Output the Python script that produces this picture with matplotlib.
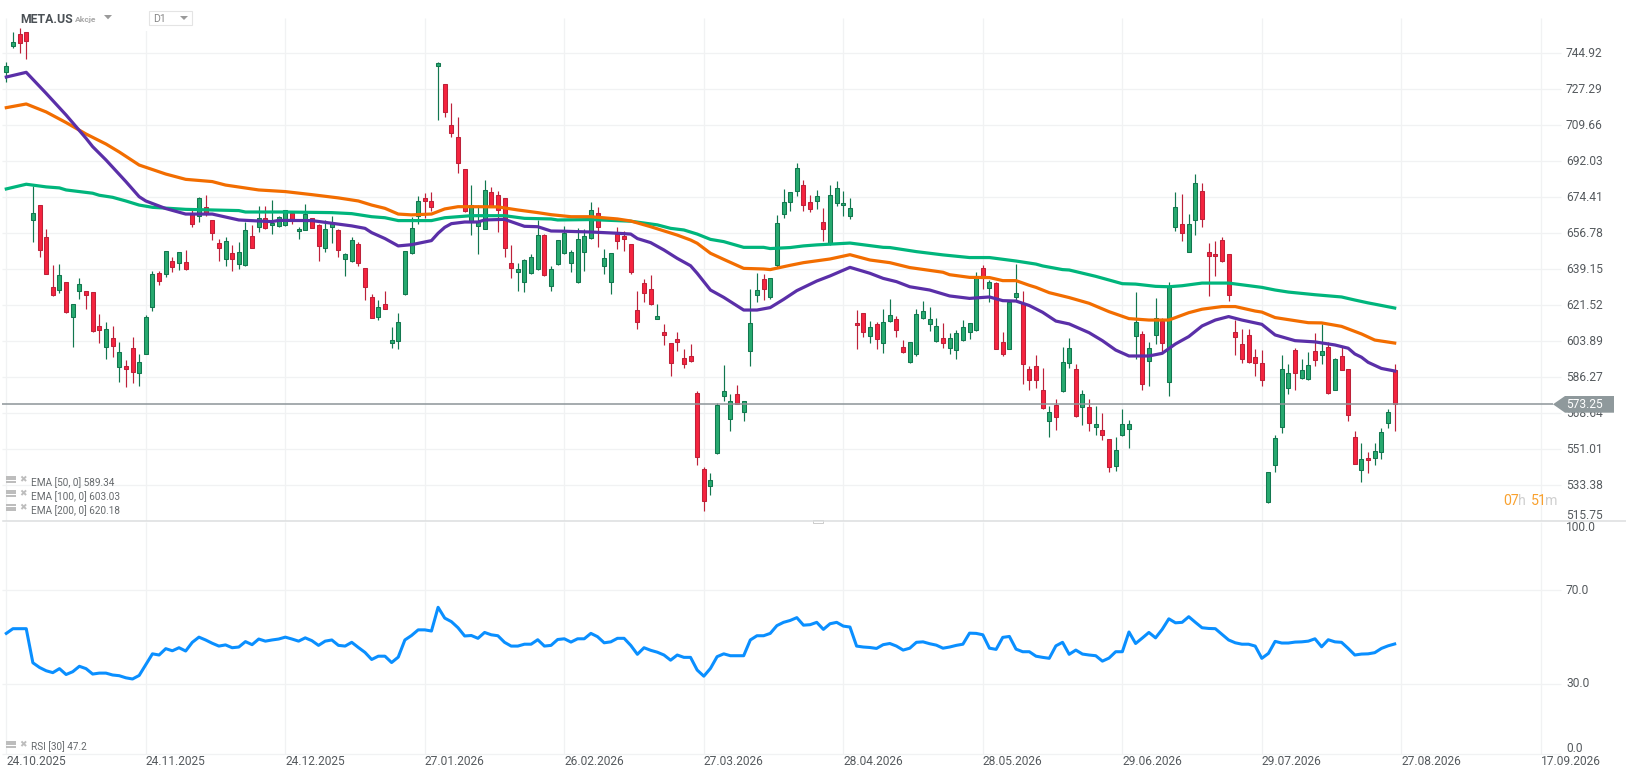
import numpy as np
import matplotlib
matplotlib.use("Agg")
import matplotlib.pyplot as plt
from matplotlib.patches import Polygon, Rectangle

plt.rcParams['font.family'] = ['Roboto', 'DejaVu Sans']

# ---------- data ----------
direction = ("GGRRGRRRGR" "GGRRRGRGRR" "GGGRGRGRRG" "RRRGRGGRGR" "GGGRGGRRGG"
             "RGGRRRGRGG" "GGGRRGRRRR" "GGGRRRRGGG" "GRGGGGGGGR" "GGRRRRRRGR"
             "RRRRRRGGGG" "RGGGRGGGGG" "RRGRGGGGRR" "GRGGRRGGGG" "GRGGGGGRGR"
             "RGGRRRRGRG" "GRGRGRRGGG" "GRGGRGGRGG" "RRRRRRRRRR" "GGGGRGGRGR"
             "GRRRGRGGGR")
highs = [740.7,755.2,757.1,755.2,679.9,670.5,658.9,641.3,641.8,632.8,
 622.0,634.9,628.4,627.9,617.3,613.4,611.4,603.4,594.8,606.0,
 597.5,616.8,638.3,638.3,648.0,645.2,647.5,648.4,669.0,674.4,
 675.4,663.5,654.0,655.0,650.9,652.4,662.2,660.9,670.2,670.2,
 672.9,665.3,668.0,667.9,659.7,671.1,664.3,661.3,663.3,665.3,
 658.7,647.0,655.0,652.5,639.6,627.1,624.1,628.5,610.9,617.8,
 648.0,664.9,675.0,676.4,677.0,740.5,729.7,720.6,713.6,688.1,
 680.4,670.5,682.9,679.5,677.5,673.9,651.1,642.1,644.0,646.5,
 663.3,656.3,640.8,653.4,660.4,648.6,659.4,658.9,672.1,669.7,
 648.9,647.3,659.9,657.8,651.4,628.4,634.4,636.4,622.2,612.2,
 602.9,608.5,600.1,602.6,579.4,542.5,539.4,573.5,592.3,578.1,
 582.5,574.5,629.5,637.3,636.9,634.9,665.7,678.3,676.8,691.2,
 682.9,675.5,677.8,669.0,680.3,682.2,677.5,673.9,619.2,617.6,
 613.8,613.2,619.7,624.6,616.1,604.5,603.4,619.7,623.5,620.5,
 615.3,612.9,608.0,609.4,614.2,612.7,637.8,641.3,633.9,633.1,
 608.4,623.5,641.7,628.5,591.8,597.2,590.8,572.2,575.6,601.1,
 605.5,592.8,580.1,575.6,572.2,568.8,556.1,557.0,570.6,565.2,
 628.0,608.8,603.6,625.1,615.1,632.9,677.0,676.0,666.2,685.8,
 681.4,652.0,653.0,655.0,646.5,614.3,609.9,609.9,600.0,599.5,
 539.7,557.9,597.2,592.6,600.5,595.1,598.7,608.0,612.2,603.4,
 595.6,600.9,590.2,560.0,554.1,549.6,554.1,561.3,570.6,592.8]
lows = [731.0,747.7,745.2,742.3,652.7,645.4,636.7,626.3,627.4,617.9,
 601.3,624.5,619.6,608.3,603.3,595.4,596.4,584.2,581.7,583.3,
 582.2,597.5,618.9,631.5,635.6,638.0,638.7,638.8,660.0,662.5,
 665.3,653.5,643.4,640.9,638.5,639.1,640.9,649.4,657.6,659.1,
 656.6,659.7,660.5,661.5,654.0,658.2,659.5,643.4,647.8,652.2,
 645.4,636.0,642.9,640.9,624.1,615.2,614.4,619.9,600.6,600.1,
 626.6,646.8,661.5,664.4,667.7,712.3,713.9,704.1,686.5,667.4,
 656.0,646.8,659.1,669.5,657.6,645.4,634.9,628.5,628.1,637.0,
 639.0,636.0,628.7,641.4,646.8,637.8,632.6,638.5,654.2,650.3,
 637.0,627.2,649.1,648.3,637.0,610.1,623.3,621.7,615.0,602.3,
 587.1,599.3,591.0,593.9,543.3,520.8,528.6,548.9,574.8,560.0,
 573.0,565.0,592.0,623.1,624.1,624.6,640.0,664.3,667.9,675.2,
 667.9,667.4,668.8,653.2,651.1,670.3,665.3,663.9,600.1,606.2,
 603.2,600.1,598.3,613.5,606.2,598.3,593.4,596.9,615.0,609.1,
 603.7,600.8,597.9,595.4,604.1,605.2,609.1,629.5,623.1,600.0,
 596.9,600.0,624.1,583.1,580.1,581.2,570.9,557.2,560.5,579.2,
 590.8,567.0,563.1,560.2,558.0,555.7,540.1,540.6,557.7,551.8,
 595.2,580.1,582.0,602.7,598.0,577.1,657.9,653.0,647.5,656.1,
 659.9,626.1,635.9,642.9,623.8,597.4,593.4,593.1,586.9,582.2,
 524.9,540.1,559.2,578.3,580.1,585.6,585.1,592.0,592.9,578.3,
 579.9,589.7,565.0,543.7,535.0,539.6,543.5,546.4,561.6,560.1]
body_top = [738.7,750.3,754.2,755.2,666.6,670.5,654.8,630.3,636.2,632.8,
 622.0,631.8,628.4,627.9,611.3,609.8,605.4,598.5,591.6,600.5,
 593.6,615.7,636.7,637.2,648.0,643.1,647.5,642.6,666.1,673.9,
 669.5,663.3,651.9,652.9,647.0,647.5,658.2,655.3,664.1,664.1,
 661.7,664.6,668.0,666.6,658.7,666.2,664.1,660.7,658.7,661.7,
 658.2,646.5,653.4,651.4,639.6,625.4,620.5,622.0,604.4,613.2,
 648.0,659.2,672.4,673.9,672.4,740.0,729.7,709.7,703.8,688.1,
 670.5,662.3,677.8,676.9,675.4,673.9,642.1,639.1,643.5,645.0,
 655.8,655.8,639.1,653.4,656.8,647.5,653.8,655.3,668.0,666.6,
 644.5,647.0,656.3,655.3,651.4,619.1,632.3,629.4,616.1,608.3,
 602.9,604.9,595.6,596.5,578.4,541.3,536.2,572.7,579.4,574.5,
 577.9,574.5,612.7,628.9,634.2,634.7,661.7,672.0,676.8,688.6,
 680.3,672.0,674.9,662.1,675.4,678.8,671.5,669.0,612.7,617.6,
 610.7,612.2,613.2,616.6,614.6,601.0,603.4,617.1,618.6,614.6,
 611.2,605.4,605.4,607.8,610.7,612.7,634.7,639.6,632.8,632.3,
 603.4,623.0,627.4,622.5,590.2,591.6,579.9,569.1,572.7,593.6,
 600.5,590.2,577.9,571.6,563.2,560.3,555.9,550.5,563.2,563.2,
 613.2,607.3,600.5,615.1,614.0,631.0,669.5,661.2,661.2,681.2,
 677.3,647.5,646.5,653.3,646.5,608.3,602.4,606.8,596.1,593.1,
 539.7,556.4,590.2,588.2,599.5,589.7,592.1,599.0,599.0,601.0,
 595.1,596.5,590.2,556.9,546.1,546.6,550.0,559.3,569.1,589.7]
body_bottom = [735.6,748.7,750.1,750.8,663.1,648.4,636.7,626.7,628.9,618.4,
 615.6,628.4,626.7,608.8,609.3,601.0,601.4,591.2,590.2,588.7,
 588.2,597.5,620.5,633.3,636.7,640.1,642.1,639.1,661.2,665.1,
 666.6,656.8,649.4,644.0,644.0,641.6,641.1,649.4,660.0,659.2,
 660.7,660.2,660.7,663.0,657.8,658.2,659.5,650.4,649.8,660.0,
 648.4,644.0,643.4,642.1,630.6,615.2,616.0,619.9,603.3,604.2,
 627.2,647.0,665.3,672.8,669.5,738.9,716.0,706.1,691.4,667.9,
 662.6,660.5,659.1,669.8,668.4,649.4,640.0,638.0,633.1,637.2,
 639.1,636.5,631.2,641.6,647.0,642.1,632.8,647.5,654.3,659.7,
 640.6,633.1,652.9,654.2,637.7,613.2,627.4,622.3,615.0,606.8,
 593.1,603.7,592.6,594.4,547.1,525.8,533.1,549.1,577.3,565.7,
 573.0,569.1,599.0,626.4,629.3,625.4,641.1,666.1,672.0,677.3,
 670.5,668.5,672.4,658.7,651.9,671.5,670.5,665.1,611.7,608.3,
 606.3,604.9,602.9,614.0,609.3,598.5,593.6,597.5,615.1,612.5,
 603.9,602.9,600.5,599.5,604.4,608.3,609.3,634.7,629.8,600.0,
 597.5,600.0,625.8,592.6,585.1,584.8,571.4,564.7,566.7,579.4,
 593.1,567.2,571.6,563.7,561.8,557.9,542.2,542.7,557.9,560.8,
 606.3,582.8,594.1,606.8,602.9,583.8,659.7,656.8,647.5,663.1,
 663.6,645.5,645.5,643.0,626.4,605.8,595.1,593.6,593.1,584.8,
 525.3,543.2,561.8,580.9,588.5,585.8,585.3,594.6,597.0,578.4,
 579.9,589.7,567.7,543.7,540.7,545.6,546.6,549.5,563.7,573.25]

ema50_bar = [0,3,6,9,12,13,15,18,20,21,24,27,31,35,38,40,41,46,49,52,54,55,57,59,61,64,65,66,67,69,71,72,75,78,80,82,84,88,92,94,95,97,99,101,103,104,106,108,111,113,115,117,119,122,124,127,130,132,134,136,139,142,145,148,150,152,154,156,158,160,163,165,167,169,172,174,176,178,180,182,184,186,189,191,194,197,200,202,203,204,205,207,209]
ema50 = [733.3,735.6,725.3,714.7,703.3,699.2,692.7,682.1,674.7,672.6,668.9,666.2,666.2,663.3,662.8,662.5,663.1,663.0,661.7,660.4,659.2,657.1,654.2,650.6,651.2,653.2,656.8,659.7,661.5,662.3,662.3,663.3,663.6,660.2,660.0,657.9,657.8,657.4,656.8,656.4,654.2,652.2,648.6,644.5,640.9,637.2,629.0,625.4,619.2,619.2,620.4,624.4,628.7,633.4,635.9,640.1,637.2,634.7,633.1,630.6,629.0,626.1,624.9,625.6,623.8,623.6,621.4,618.1,613.8,612.4,608.1,604.2,599.6,596.7,596.7,598.0,602.6,606.2,611.4,614.3,616.0,614.3,612.2,607.0,604.2,603.6,602.1,600.5,597.7,596.1,593.6,590.6,589.34]
ema100_bar = [0,3,6,9,12,15,17,20,24,27,31,33,38,42,46,50,53,55,57,59,61,64,66,68,71,74,77,80,82,85,88,92,94,97,101,103,104,106,108,111,114,115,118,120,124,127,130,133,136,141,142,145,148,150,152,154,155,157,160,163,166,169,172,175,178,180,183,185,188,189,191,194,196,198,201,204,206,209]
ema100 = [718.3,720.1,716.2,711.0,705.4,700.5,696.6,690.2,685.8,683.2,682.1,680.4,678.0,677.2,675.7,674.1,672.6,670.6,669.0,666.2,665.8,666.2,668.7,669.8,669.8,669.7,668.2,666.9,665.9,664.9,664.9,663.8,662.8,660.0,655.9,653.5,651.9,647.0,644.0,639.6,639.3,639.0,641.1,642.4,644.2,646.3,643.7,642.4,640.0,637.7,636.5,635.2,635.1,633.6,633.6,631.3,630.3,627.7,625.3,622.5,618.4,615.0,614.3,614.3,617.9,619.6,620.9,620.9,618.7,618.2,615.5,614.0,613.0,612.9,611.2,607.5,604.5,603.03]
ema200_bar = [0,3,6,8,9,13,14,16,18,20,22,27,31,35,36,42,49,52,55,57,59,64,66,70,75,78,82,83,88,94,98,100,102,103,104,106,108,111,114,115,118,120,122,127,132,133,137,141,145,148,152,154,155,156,159,160,164,166,168,170,173,175,177,180,184,189,191,193,197,201,203,205,209]
ema200 = [678.5,680.8,679.5,679.0,678.0,676.4,675.4,674.4,672.6,670.6,669.5,668.5,668.2,667.9,667.2,667.2,666.9,666.4,664.9,664.4,663.0,663.0,664.4,665.4,665.4,664.1,663.8,663.3,663.5,662.7,660.9,659.2,658.4,657.4,656.4,653.8,652.7,649.9,649.9,649.3,649.8,650.6,651.1,652.0,649.9,649.8,647.8,646.2,644.9,644.9,643.2,642.2,641.7,640.8,639.0,638.8,635.7,633.9,632.1,631.9,630.8,630.6,631.1,632.4,632.4,630.3,629.0,628.0,626.7,625.6,624.1,622.7,620.18]

rsi = [51.7,53.7,53.7,53.7,39.2,37.2,35.8,35.0,36.7,34.2,35.4,37.7,36.7,34.4,34.8,34.8,34.0,33.7,32.8,32.3,33.8,38.4,43.0,42.5,45.2,44.3,45.6,44.2,47.9,50.1,48.9,47.5,46.3,46.8,45.6,45.9,48.2,46.9,49.3,48.4,48.9,49.3,50.1,49.3,48.4,
 49.8,48.6,46.6,48.4,48.9,46.6,46.3,47.9,45.7,43.6,40.6,42.0,42.0,39.3,41.6,48.9,50.8,53.2,53.2,52.7,62.8,58.2,56.7,54.1,50.6,50.8,49.6,52.1,51.1,50.7,47.9,46.3,46.3,47.1,47.1,49.0,46.3,46.6,49.1,49.4,48.0,49.4,49.4,51.7,50.3,47.7,48.1,49.6,49.6,46.6,42.8,45.6,44.5,43.7,42.5,40.3,42.5,41.5,41.5,36.1,33.5,36.8,41.8,43.0,42.2,42.2,42.2,48.9,50.7,50.7,51.7,55.0,56.4,57.2,58.4,55.2,55.4,56.4,
 53.4,55.8,56.4,54.8,54.4,46.3,45.9,45.7,45.3,46.9,47.4,46.3,44.6,45.4,47.9,48.1,47.3,46.7,45.4,45.9,46.6,47.1,51.8,51.7,51.1,45.4,44.9,50.0,50.4,45.0,43.9,43.9,42.0,41.5,41.1,46.4,47.9,42.8,44.6,42.9,42.5,42.2,39.9,41.2,43.9,43.9,52.3,47.4,49.7,52.1,49.8,53.4,57.9,56.2,56.4,58.8,56.4,54.1,53.8,53.7,51.3,48.9,47.7,47.1,47.1,46.3,41.1,43.2,48.3,47.6,47.6,48.0,48.1,48.4,49.4,46.0,49.0,48.1,47.9,45.3,42.5,42.9,43.0,43.5,45.3,46.4,47.2]

price_ticks = [744.92,727.29,709.66,692.03,674.41,656.78,639.15,621.52,603.89,586.27,568.64,551.01,533.38,515.75]
rsi_ticks = [100.0,70.0,30.0,0.0]
date_bars = [0,21,42,63,84,105,126,147,168,189,210,231]
date_labels = ["24.10.2025","24.11.2025","24.12.2025","27.01.2026","26.02.2026","27.03.2026",
               "28.04.2026","28.05.2026","29.06.2026","29.07.2026","27.08.2026","17.09.2026"]
last_price = 573.25
legend_labels = ["EMA [50, 0] 589.34","EMA [100, 0] 603.03","EMA [200, 0] 620.18"]
rsi_label = "RSI [30] 47.2"

# ---------- layout ----------
W, H = 1626, 779
BAR0, BARW = 6.3, 6.643
XMIN, XMAX = (0-BAR0)/BARW, (W-BAR0)/BARW
def bar_at(px):
    return (px-BAR0)/BARW

fig = plt.figure(figsize=(W/100, H/100), dpi=100, facecolor='white')
def mk(top, bottom):
    a = fig.add_axes([0, 1-bottom/H, 1, (bottom-top)/H])
    a.set_xlim(XMIN, XMAX)
    a.axis('off')
    return a

ax = mk(18, 521.3)
ax.set_ylim(515.75, 762.2)
ar = mk(521.5, 753.5)
RSI_FLOOR = 0.6
ar.set_ylim(RSI_FLOOR, 99.3)
ov = fig.add_axes([0, 0, 1, 1], zorder=10)
ov.set_xlim(0, W); ov.set_ylim(H, 0); ov.axis('off'); ov.patch.set_alpha(0)

GRID = '#f1f2f3'
LW1 = 0.72
ax.hlines(price_ticks, bar_at(2), bar_at(1561), color=GRID, lw=LW1*1.3, zorder=1)
ar.hlines([70, 30, RSI_FLOOR], bar_at(2), bar_at(1561), color=GRID, lw=LW1*1.3, zorder=1, clip_on=False)
for a in (ax, ar):
    a.vlines(date_bars, *a.get_ylim(), color=GRID, lw=LW1*1.3, zorder=1)

# ---------- candles ----------
idx = np.arange(len(direction))
up = np.array([d == 'G' for d in direction])
hi, lo = np.array(highs), np.array(lows)
bt, bb = np.array(body_top), np.array(body_bottom)
for mask, fill, edge in ((up, '#27a96f', '#12774f'), (~up, '#f5243f', '#bd2139')):
    ax.vlines(idx[mask], lo[mask], hi[mask], color=edge, lw=0.85, zorder=2)
    ax.bar(idx[mask], bt[mask]-bb[mask], bottom=bb[mask], width=0.6, color=fill,
           edgecolor=edge, linewidth=0.75, zorder=3)

# ---------- EMAs ----------
LWE = 2.3
ax.plot(ema200_bar, ema200, color='#00b57c', lw=LWE, zorder=4, solid_joinstyle='round')
ax.plot(ema100_bar, ema100, color='#f26d00', lw=LWE, zorder=5, solid_joinstyle='round')
ax.plot(ema50_bar, ema50, color='#5a2fa8', lw=LWE, zorder=6, solid_joinstyle='round')
ax.hlines(last_price, bar_at(2), bar_at(1553), color='#8d9599', lw=1.1, zorder=7)

# ---------- RSI ----------
ar.plot(idx, rsi, color='#0a8fff', lw=2.2, zorder=4, solid_joinstyle='round')

# ---------- axis labels ----------
TC = '#555a5e'
FS = 8.64
for v in price_ticks[:-1]:
    ax.text(1566/W, v, f"{v:.2f}", transform=ax.get_yaxis_transform(), ha='left', va='center',
            fontsize=FS, color=TC, zorder=8)
ov.text(1566, 515.7, f"{price_ticks[-1]:.2f}", ha='left', va='center', fontsize=FS, color=TC)
ov.text(1566, 527.3, f"{rsi_ticks[0]:.1f}", ha='left', va='center', fontsize=FS, color=TC)
ov.text(1566, 590.7, f"{rsi_ticks[1]:.1f}", ha='left', va='center', fontsize=FS, color=TC)
ov.text(1566, 683.7, f"{rsi_ticks[2]:.1f}", ha='left', va='center', fontsize=FS, color=TC)
ov.text(1566, 748.0, f"{rsi_ticks[3]:.1f}", ha='left', va='center', fontsize=FS, color=TC)
for b, s in zip(date_bars, date_labels):
    ar.text(b, -0.035, s, transform=ar.get_xaxis_transform(), ha='left', va='center',
            fontsize=FS, color=TC, clip_on=False)

# ---------- separator and handle ----------
ov.plot([3, W], [521, 521], color='#dcdedf', lw=1.1)
ov.add_patch(Rectangle((813, 520), 10, 3.2, facecolor='white', edgecolor='#c4c4c4', lw=0.6))

# ---------- header ----------
ov.add_patch(Rectangle((145, 4), 52, 27, facecolor='white', edgecolor='none'))
ov.text(20, 19, "META.US", fontsize=8.8, fontweight='bold', color='#4a5055', ha='left', va='center')
ov.text(75, 19.5, "Akcje", fontsize=6.1, fontweight='bold', color='#a8a8a8', ha='left', va='center')
ov.add_patch(Polygon([(104, 15), (112, 15), (108, 19.3)], facecolor='#9a9a9a', edgecolor='none'))
ov.add_patch(Rectangle((148.5, 10.5), 43, 14.5, facecolor='white', edgecolor='#e4e4e4', lw=0.8))
ov.text(153, 18.5, "D1", fontsize=7.6, color='#888888', ha='left', va='center')
ov.add_patch(Polygon([(180, 16), (188, 16), (184, 20)], facecolor='#9a9a9a', edgecolor='none'))

# ---------- legends ----------
def icon(y):
    for k in (-2.6, 0, 2.6):
        ov.add_patch(Rectangle((6, y+k-0.9), 10, 1.8, facecolor='#bdbdbd', edgecolor='none'))
    ov.text(23, y, "\u2716", fontsize=6.5, color='#bdbdbd', ha='center', va='center', family='DejaVu Sans')
for s, ty, iy in zip(legend_labels, (482.7, 496.7, 510.7), (479.3, 493.3, 507.7)):
    icon(iy)
    ov.text(31, ty, s, fontsize=7.2, color='#666a6d', ha='left', va='center')
icon(744.3)
ov.text(31, 746.7, rsi_label, fontsize=7.2, color='#666a6d', ha='left', va='center')

# ---------- last price tag and countdown ----------
ov.add_patch(Polygon([(1553, 404.3), (1565, 396), (1614, 396), (1614, 412.7), (1565, 412.7)],
                     facecolor='#8f999c', edgecolor='none', zorder=5))
ov.text(1566, 404.5, f"{last_price:.2f}", fontsize=FS, color='white', ha='left', va='center', zorder=6)
for s, x, c in (("07", 1503.3, '#f9a12e'), ("h", 1518.3, '#cfcfcf'), ("51", 1530.7, '#f9a12e'), ("m", 1545, '#cfcfcf')):
    ov.text(x, 501, s, fontsize=10.2, color=c, ha='left', va='center')

fig.savefig("out.png", dpi=100, facecolor='white')
